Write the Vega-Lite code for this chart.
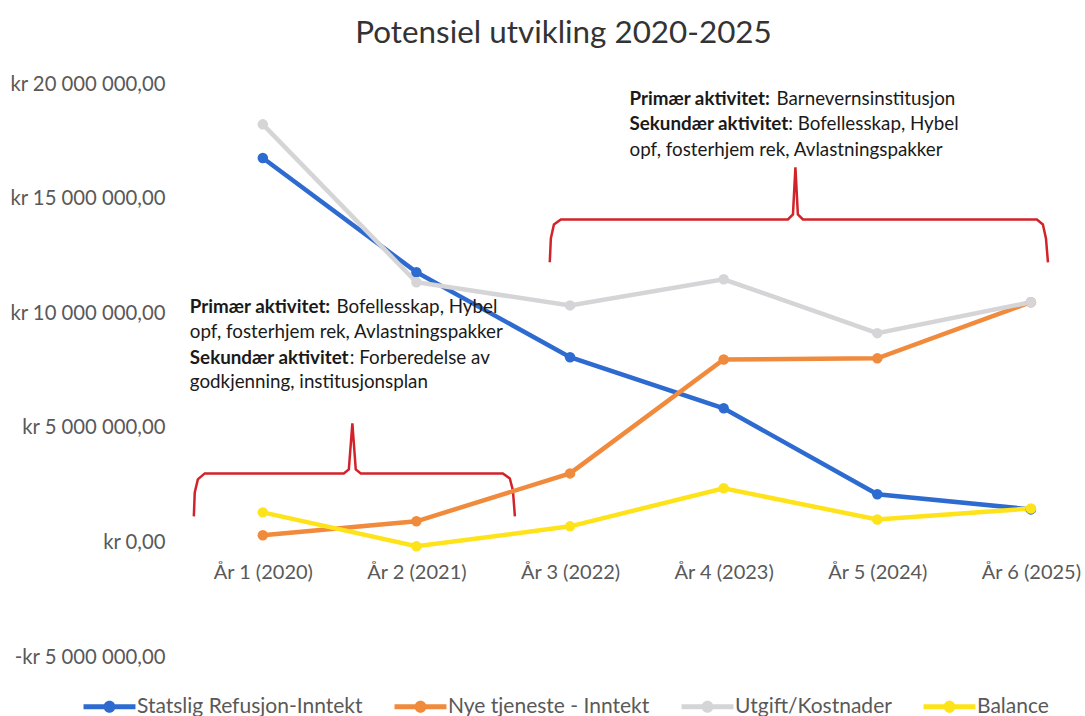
{
  "$schema": "https://vega.github.io/schema/vega-lite/v6.json",
  "autosize": {"type": "none"},
  "width": 891,
  "height": 573,
  "padding": {"left": 186, "top": 84, "right": 8, "bottom": 59},
  "background": "white",
  "title": {
    "text": "Potensiel utvikling 2020-2025",
    "anchor": "middle",
    "frame": "group",
    "dx": -68,
    "offset": 25,
    "fontSize": 31.4,
    "font": "Lato",
    "fontWeight": "normal",
    "color": "#333333"
  },
  "datasets": {
    "series": [
      {"x": 1, "series": "Statslig Refusjon-Inntekt", "y": 16770000},
      {"x": 2, "series": "Statslig Refusjon-Inntekt", "y": 11790000},
      {"x": 3, "series": "Statslig Refusjon-Inntekt", "y": 8080000},
      {"x": 4, "series": "Statslig Refusjon-Inntekt", "y": 5850000},
      {"x": 5, "series": "Statslig Refusjon-Inntekt", "y": 2100000},
      {"x": 6, "series": "Statslig Refusjon-Inntekt", "y": 1440000},
      {"x": 1, "series": "Nye tjeneste - Inntekt", "y": 310000},
      {"x": 2, "series": "Nye tjeneste - Inntekt", "y": 920000},
      {"x": 3, "series": "Nye tjeneste - Inntekt", "y": 3010000},
      {"x": 4, "series": "Nye tjeneste - Inntekt", "y": 7980000},
      {"x": 5, "series": "Nye tjeneste - Inntekt", "y": 8030000},
      {"x": 6, "series": "Nye tjeneste - Inntekt", "y": 10480000},
      {"x": 1, "series": "Utgift/Kostnader", "y": 18240000},
      {"x": 2, "series": "Utgift/Kostnader", "y": 11350000},
      {"x": 3, "series": "Utgift/Kostnader", "y": 10340000},
      {"x": 4, "series": "Utgift/Kostnader", "y": 11480000},
      {"x": 5, "series": "Utgift/Kostnader", "y": 9130000},
      {"x": 6, "series": "Utgift/Kostnader", "y": 10480000},
      {"x": 1, "series": "Balance", "y": 1310000},
      {"x": 2, "series": "Balance", "y": -170000},
      {"x": 3, "series": "Balance", "y": 700000},
      {"x": 4, "series": "Balance", "y": 2360000},
      {"x": 5, "series": "Balance", "y": 1000000},
      {"x": 6, "series": "Balance", "y": 1480000}
    ],
    "brackets": [
      {"id": "L", "i": 1, "x": 0.551, "y": 1134000},
      {"id": "L", "i": 2, "x": 0.557, "y": 2180000},
      {"id": "L", "i": 3, "x": 0.577, "y": 2750000},
      {"id": "L", "i": 4, "x": 0.622, "y": 3010000},
      {"id": "L", "i": 5, "x": 1.527, "y": 3010000},
      {"id": "L", "i": 6, "x": 1.56, "y": 3185000},
      {"id": "L", "i": 7, "x": 1.583, "y": 5190000},
      {"id": "L", "i": 8, "x": 1.605, "y": 3185000},
      {"id": "L", "i": 9, "x": 1.638, "y": 3010000},
      {"id": "L", "i": 10, "x": 2.5625, "y": 3010000},
      {"id": "L", "i": 11, "x": 2.608, "y": 2790000},
      {"id": "L", "i": 12, "x": 2.628, "y": 2270000},
      {"id": "L", "i": 13, "x": 2.641, "y": 1134000},
      {"id": "R", "i": 1, "x": 2.868, "y": 12220000},
      {"id": "R", "i": 2, "x": 2.875, "y": 13260000},
      {"id": "R", "i": 3, "x": 2.895, "y": 13870000},
      {"id": "R", "i": 4, "x": 2.94, "y": 14090000},
      {"id": "R", "i": 5, "x": 4.418, "y": 14090000},
      {"id": "R", "i": 6, "x": 4.451, "y": 14310000},
      {"id": "R", "i": 7, "x": 4.467, "y": 16360000},
      {"id": "R", "i": 8, "x": 4.483, "y": 14310000},
      {"id": "R", "i": 9, "x": 4.516, "y": 14090000},
      {"id": "R", "i": 10, "x": 6.039, "y": 14090000},
      {"id": "R", "i": 11, "x": 6.078, "y": 13870000},
      {"id": "R", "i": 12, "x": 6.098, "y": 13260000},
      {"id": "R", "i": 13, "x": 6.111, "y": 12220000}
    ],
    "boldText": [
      {"x": 0.525, "y": 10266000, "text": "Primær aktivitet:"},
      {"x": 0.525, "y": 8058000, "text": "Sekundær aktivitet"},
      {"x": 3.387, "y": 19346000, "text": "Primær aktivitet:"},
      {"x": 3.387, "y": 18237000, "text": "Sekundær aktivitet"}
    ],
    "plainText": [
      {"x": 1.48, "y": 10266000, "text": "Bofellesskap, Hybel"},
      {"x": 0.525, "y": 9175000, "text": "opf, fosterhjem rek, Avlastningspakker"},
      {"x": 1.566, "y": 8058000, "text": ": Forberedelse av"},
      {"x": 0.525, "y": 6994000, "text": "godkjenning, institusjonsplan"},
      {"x": 4.344, "y": 19346000, "text": "Barnevernsinstitusjon"},
      {"x": 4.421, "y": 18237000, "text": ": Bofellesskap, Hybel"},
      {"x": 3.387, "y": 17134000, "text": "opf, fosterhjem rek, Avlastningspakker"}
    ]
  },
  "encoding": {
    "x": {
      "field": "x",
      "type": "quantitative",
      "scale": {"domain": [0.5, 6.3], "nice": false, "zero": false},
      "axis": {
        "values": [1, 2, 3, 4, 5, 6],
        "labelExpr": "'År ' + datum.value + ' (' + (2019 + datum.value) + ')'",
        "offset": -115,
        "labelPadding": 20,
        "labelFontSize": 20,
        "labelFont": "Lato",
        "labelColor": "#595959",
        "domain": false,
        "ticks": false,
        "grid": false,
        "title": null,
        "labelFlush": false,
        "labelOverlap": false
      }
    },
    "y": {
      "field": "y",
      "type": "quantitative",
      "scale": {"domain": [-5000000, 20000000], "nice": false, "zero": false},
      "axis": {
        "values": [-5000000, 0, 5000000, 10000000, 15000000, 20000000],
        "format": "$,.2f",
        "labelPadding": 21,
        "labelFontSize": 20.3,
        "labelFont": "Lato",
        "labelColor": "#595959",
        "domain": false,
        "ticks": false,
        "grid": false,
        "title": null
      }
    }
  },
  "layer": [
    {
      "data": {"name": "brackets"},
      "mark": {"type": "line", "color": "#D2232A", "strokeWidth": 2.5},
      "encoding": {
        "detail": {"field": "id"},
        "order": {"field": "i", "type": "quantitative"}
      }
    },
    {
      "data": {"name": "series"},
      "mark": {"type": "line", "strokeWidth": 4.5},
      "encoding": {
        "color": {
          "field": "series",
          "type": "nominal",
          "scale": {
            "domain": ["Statslig Refusjon-Inntekt", "Nye tjeneste - Inntekt", "Utgift/Kostnader", "Balance"],
            "range": ["#2E6BD0", "#F08A3C", "#D5D5D8", "#FFE31A"]
          },
          "legend": {
            "orient": "none",
            "legendX": -87,
            "legendY": 612,
            "direction": "horizontal",
            "title": null,
            "symbolType": "M-4.33,-0.4L4.33,-0.4L4.33,0.4L-4.33,0.4Z M-1,0A1,1 0 1,1 1,0A1,1 0 1,1 -1,0Z",
            "symbolSize": 144,
            "symbolStrokeWidth": 0,
            "labelFont": "Lato",
            "labelFontSize": 21,
            "labelColor": "#595959",
            "labelOffset": 17,
            "columnPadding": 31,
            "labelLimit": 400,
            "padding": 0,
            "encode": {"symbols": {"update": {"fill": {"scale": "color", "field": "value"}, "opacity": {"value": 1}}}}
          }
        }
      }
    },
    {
      "data": {"name": "series"},
      "mark": {"type": "point", "filled": true, "size": 110, "opacity": 1},
      "encoding": {
        "color": {"field": "series", "type": "nominal"}
      }
    },
    {
      "data": {"name": "boldText"},
      "mark": {"type": "text", "align": "left", "baseline": "middle", "font": "Lato", "fontSize": 18.8, "fontWeight": "bold", "color": "#1a1a1a"},
      "encoding": {
        "text": {"field": "text"}
      }
    },
    {
      "data": {"name": "plainText"},
      "mark": {"type": "text", "align": "left", "baseline": "middle", "font": "Lato", "fontSize": 18.8, "color": "#1a1a1a"},
      "encoding": {
        "text": {"field": "text"}
      }
    }
  ],
  "config": {
    "view": {"stroke": null},
    "locale": {"number": {"decimal": ",", "thousands": " ", "grouping": [3], "currency": ["kr ", ""], "minus": "-"}}
  }
}
